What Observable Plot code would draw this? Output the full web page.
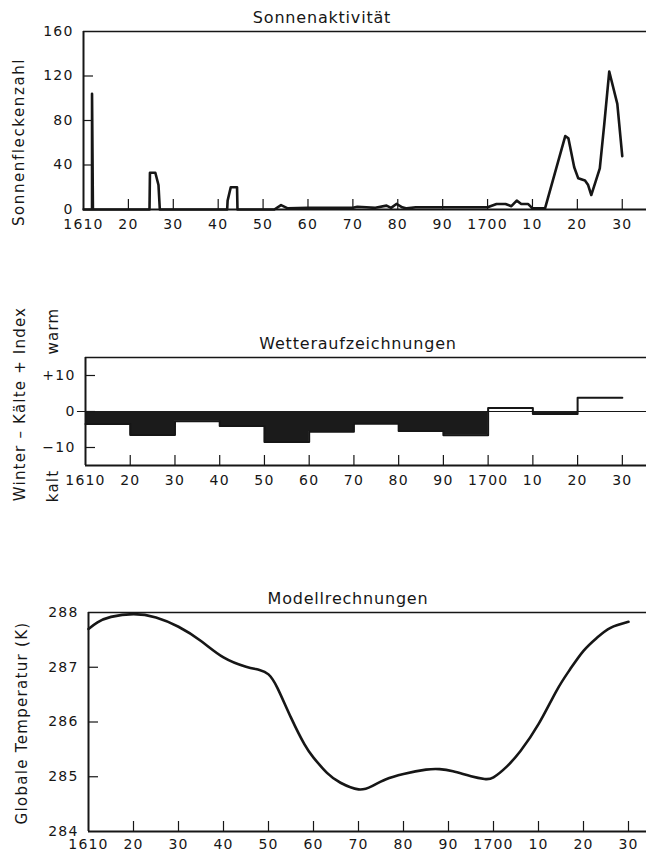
<!DOCTYPE html>
<html><head><meta charset="utf-8">
<script src="https://cdn.jsdelivr.net/npm/d3@7"></script>
<script src="https://cdn.jsdelivr.net/npm/@observablehq/plot@0.6"></script>
<style>
body{margin:0;background:#fff;}
#wrap{position:relative;width:646px;height:858px;overflow:hidden;font-family:"DejaVu Sans",sans-serif;color:#161616;background:#fff;}
.title{position:absolute;white-space:nowrap;transform:translateX(-50%);font-size:16px;line-height:20px;letter-spacing:0.8px;}
.rot{position:absolute;white-space:nowrap;transform:translate(-50%,-50%) rotate(-90deg);font-size:15px;line-height:18px;letter-spacing:1.6px;}
</style></head><body><div id="wrap"></div>
<script>
// ---- data ----
const decades = [1610,1620,1630,1640,1650,1660,1670,1680,1690,1700,1710,1720,1730];
const decadeLabels = ["1610","20","30","40","50","60","70","80","90","1700","10","20","30"];

const sunTicks = [0,40,80,120,160];
const sunYears = [1610,1611.9,1611.9,1612.1,
  1624.7,1624.8,1626,1626.7,1627,
  1642,1642.1,1642.8,1644.2,1644.3,
  1652.5,1654,1655.5,1660,1665,1670,1671,1673,1675,1677.5,1678.5,1679.7,1681,1682,1684,1690,1700,
  1702,1704,1705.3,1706.5,1707.5,1709,1710,1712.8,
  1717.3,1718,1719.3,1720.2,1721.7,1722.4,1723.1,1725,1726,1727.1,1728.9,1730];
const sunValues = [0,0,104,0,
  0,33,33,22,0,
  0,8,20,20,0,
  0,4,1,1.5,1.5,1.5,2.5,2,1.5,3.5,1.5,5,2,1,2,2,2,
  5,5,3,8,5,5,1,1,
  66,64,38,28,26,22,13,37,77,124,95,48];

const winterTicks = [-10,0,10];
const winterDecades = [1610,1620,1630,1640,1650,1660,1670,1680,1690,1700,1710,1720];
const winterIndex = [-3.5,-6.5,-2.7,-4.0,-8.5,-5.6,-3.4,-5.4,-6.6,1.0,-0.7,3.8];

const tempTicks = [284,285,286,287,288];
const tempYears = [1610,1612,1615,1620,1625,1630,1635,1640,1645,1648,1650,1652,1655,1658,1660,1663,1666,1670,1673,1676,1680,1685,1688,1691,1695,1698,1700,1703,1706,1710,1714,1717,1720,1723,1726,1730];
const tempValues = [287.70,287.82,287.92,287.97,287.91,287.74,287.48,287.18,287.01,286.95,286.87,286.62,286.08,285.59,285.35,285.07,284.89,284.77,284.83,284.95,285.05,285.13,285.14,285.10,285.01,284.96,284.99,285.19,285.47,285.96,286.57,286.96,287.30,287.54,287.72,287.83];

// ---- helpers ----
const wrap = document.getElementById("wrap");
const labelMap = new Map(decades.map((d,i)=>[d, decadeLabels[i]]));
const INK = "#161616";
const style = {fontFamily:"DejaVu Sans, sans-serif", fontSize:"14px", letterSpacing:"1.2px", color:INK, background:"transparent", overflow:"visible"};
function place(el, top){ el.style.position="absolute"; el.style.left="0px"; el.style.top=top+"px"; wrap.appendChild(el); }
function addText(cls, text, css){ const d=document.createElement("div"); d.className=cls; d.textContent=text; Object.assign(d.style, css); wrap.appendChild(d); }

function panel({top, height, marginTop, marginBottom, marginLeft, xMax, yDomain, yTicks, yFmt, marks, tickPad}){
  const plotH = height - marginTop - marginBottom;
  const plotW = 646 - marginLeft;
  const xPerPx = (xMax - 1610) / plotW;
  const yPerPx = (yDomain[1] - yDomain[0]) / plotH;
  const inner = yTicks.filter(t => t > yDomain[0] && t < yDomain[1]);
  const p = Plot.plot({
    width: 646, height, marginTop, marginBottom, marginLeft, marginRight: 0,
    style,
    x: {domain:[1610, xMax], axis:null},
    y: {domain: yDomain, axis:null},
    marks: [
      ...marks,
      Plot.ruleY([yDomain[1]], {stroke:INK, strokeWidth:1.6}),
      Plot.ruleY([yDomain[0]], {stroke:INK, strokeWidth:2}),
      Plot.ruleX([1610], {stroke:INK, strokeWidth:2}),
      Plot.ruleY(inner, {x1:1610, x2:1610 + 10*xPerPx, stroke:INK, strokeWidth:1.2}),
      Plot.ruleX(decades.slice(1), {y1:yDomain[0], y2:yDomain[0] + 10*yPerPx, stroke:INK, strokeWidth:1.2}),
      Plot.axisY({ticks:yTicks, tickSize:0, tickPadding:10, tickFormat:yFmt, fontSize:14, label:null}),
      Plot.axisX({ticks:decades, tickSize:0, tickPadding:tickPad, tickFormat:d=>labelMap.get(d), fontSize:14, label:null})
    ]
  });
  place(p, top);
}

// ---- panel 1: Sonnenaktivität ----
const sunData = sunYears.map((y,i)=>({year:y, value:sunValues[i]}));
panel({top:0, height:240, marginTop:31, marginBottom:31, marginLeft:83, xMax:1735.4,
  yDomain:[0,160], yTicks:sunTicks, yFmt:d=>String(d), tickPad:10,
  marks:[Plot.line(sunData, {x:"year", y:"value", stroke:INK, strokeWidth:2.6, strokeLinejoin:"round"})]});
addText("title","Sonnenaktivität",{top:"8px", left:"322px"});
addText("rot","Sonnenfleckenzahl",{left:"19px", top:"142px"});

// ---- panel 2: Wetteraufzeichnungen ----
const winterData = winterDecades.map((d,i)=>({year:d, value:winterIndex[i]}));
const stepData = [...winterData, {year:1730, value:winterIndex[winterIndex.length-1]}];
panel({top:340, height:160, marginTop:17, marginBottom:35, marginLeft:85, xMax:1735.4,
  yDomain:[-15,15], yTicks:winterTicks, yFmt:d=> d>0 ? "+"+d : d<0 ? "\u2212"+(-d) : "0", tickPad:10,
  marks:[
    Plot.ruleY([0], {x1:1608.2, x2:1735.4, stroke:INK, strokeWidth:1}),
    Plot.areaY(stepData, {x:"year", y1:0, y2:d=>Math.min(0,d.value), curve:"step-after", fill:"#1b1b1b"}),
    Plot.line(stepData, {x:"year", y:"value", curve:"step-after", stroke:INK, strokeWidth:2})
  ]});
addText("title","Wetteraufzeichnungen",{top:"334px", left:"358px"});
addText("rot","Winter \u2013 Kälte + Index",{left:"20px", top:"404px", letterSpacing:"1.2px"});
addText("rot","warm",{left:"53px", top:"331px", letterSpacing:"1.2px"});
addText("rot","kalt",{left:"53px", top:"486px", letterSpacing:"1.2px"});

// ---- panel 3: Modellrechnungen ----
const tempData = tempYears.map((y,i)=>({year:y, value:tempValues[i]}));
panel({top:590, height:268, marginTop:22, marginBottom:27, marginLeft:88, xMax:1734,
  yDomain:[284,288], yTicks:tempTicks, yFmt:d=>String(d), tickPad:8,
  marks:[Plot.line(tempData, {x:"year", y:"value", curve:"natural", stroke:INK, strokeWidth:2.6})]});
addText("title","Modellrechnungen",{top:"589px", left:"348px"});
addText("rot","Globale  Temperatur  (K)",{left:"22px", top:"723px", letterSpacing:"1.3px"});
</script></body></html>
